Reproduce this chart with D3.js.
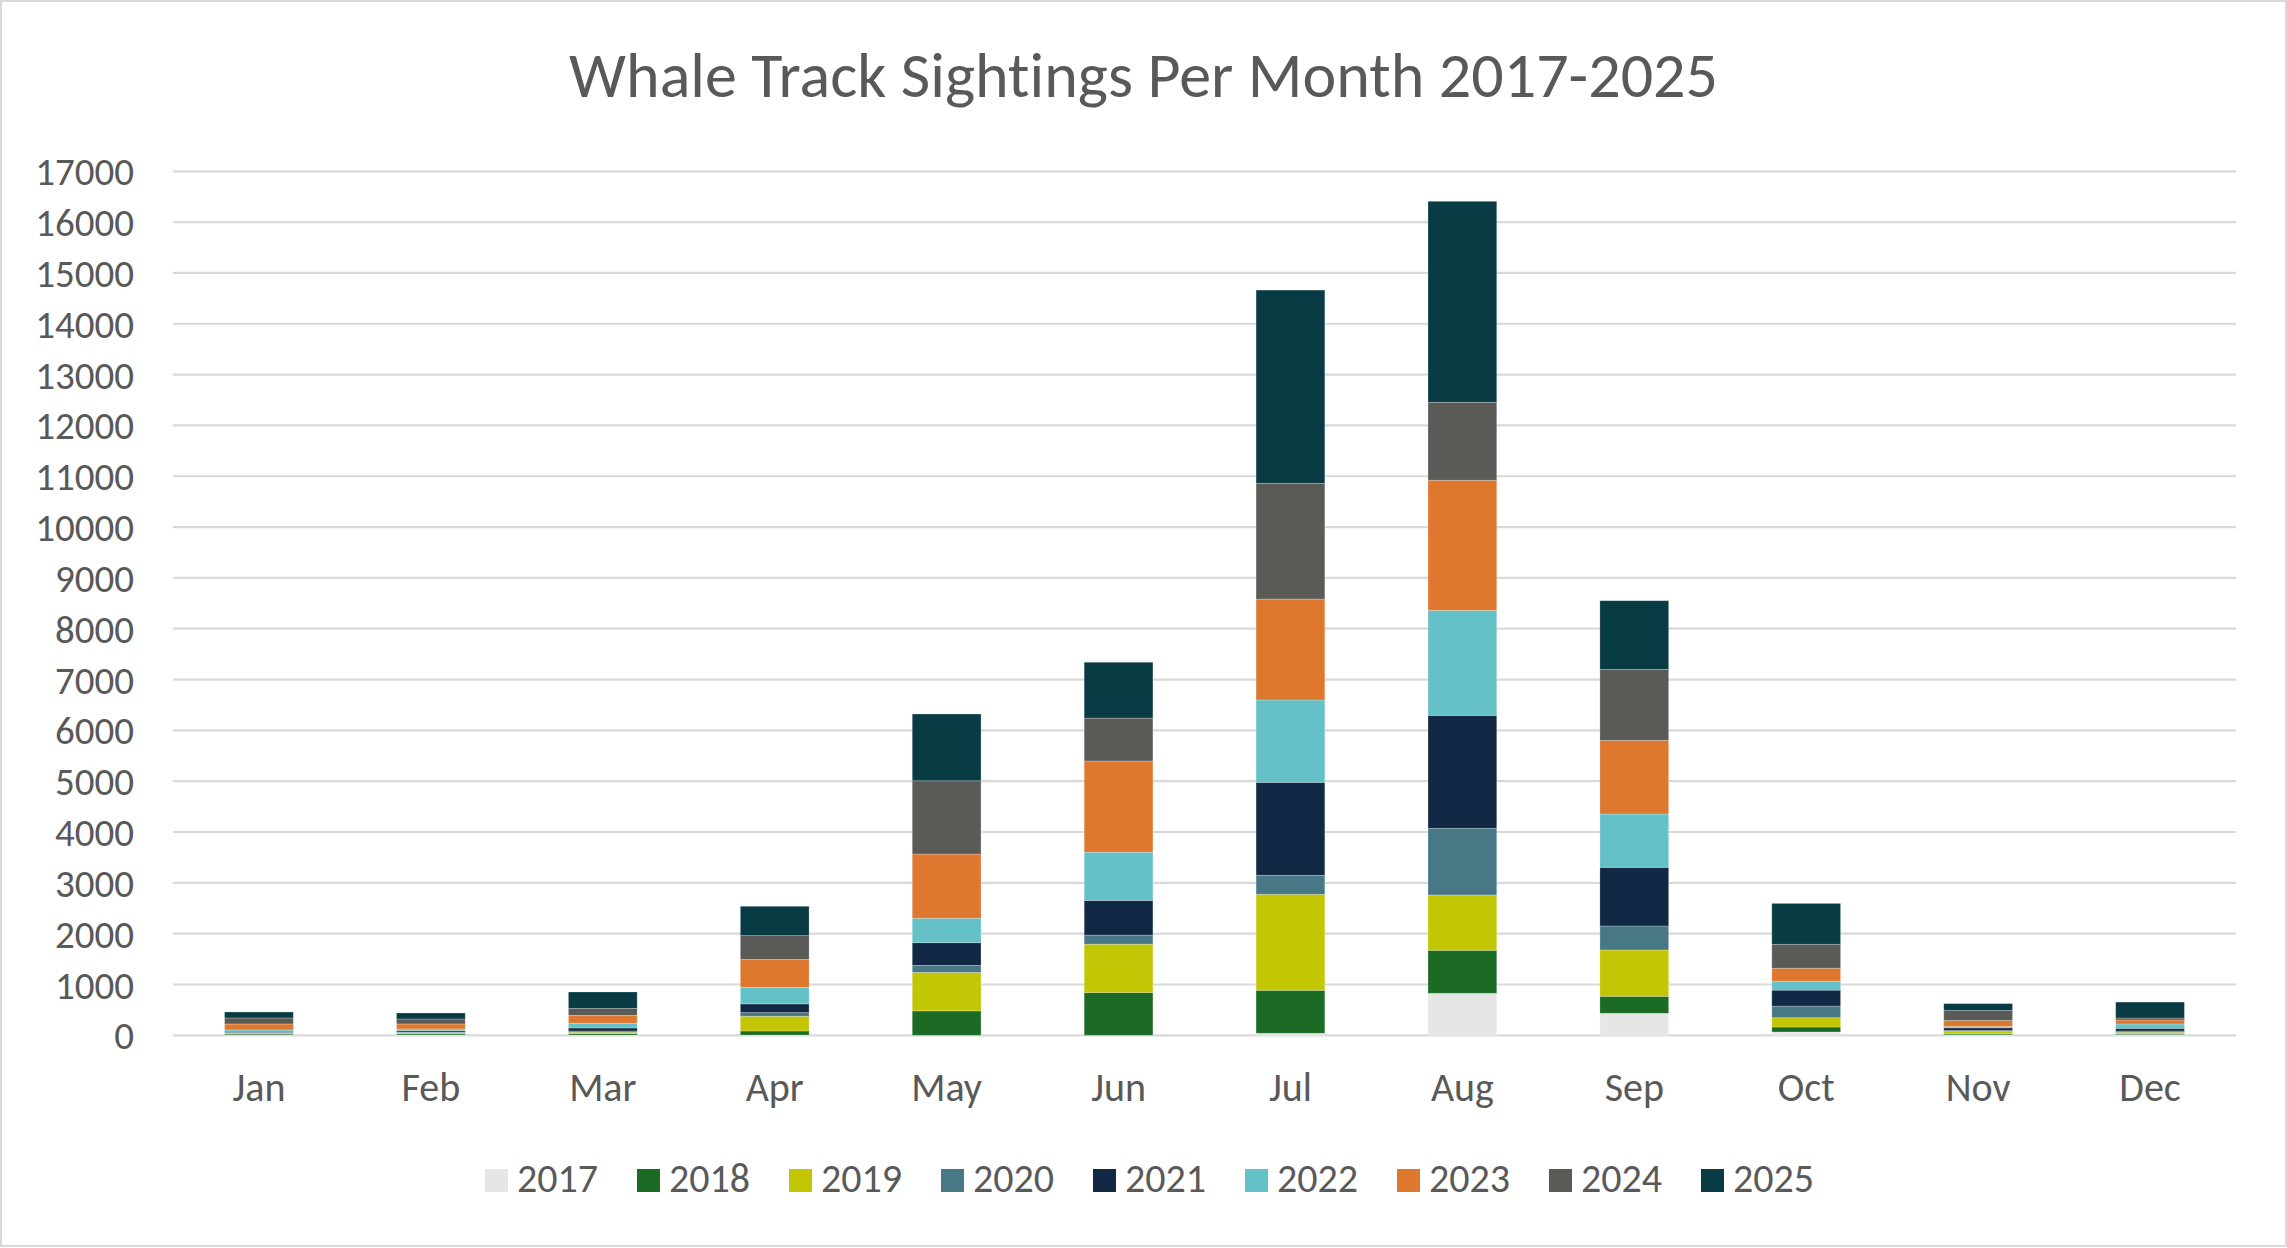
<!DOCTYPE html>
<html>
<head>
<meta charset="utf-8">
<script src="https://cdn.jsdelivr.net/npm/d3@7"></script>
<style>
    html, body { margin: 0; padding: 0; background: #fff; }
    svg text { font-family: Calibri, Carlito, Lato, sans-serif; fill: #595959; font-variant-ligatures: none; }
</style>
</head>
<body>
<div class="whale-chart"></div>
<script>
var months = ["Jan", "Feb", "Mar", "Apr", "May", "Jun", "Jul", "Aug", "Sep", "Oct", "Nov", "Dec"];
var years = ["2017", "2018", "2019", "2020", "2021", "2022", "2023", "2024", "2025"];
var yearColours = ["#e7e6e6", "#1b6b24", "#c3c605", "#487886", "#112944", "#64c1c7", "#df782f", "#5a5a57", "#093b45"];
var yTicks = d3.range(0, 17001, 1000);

// sightings per month, one array per year
var sightings2017 = [5, 5, 5, 5, 0, 0, 40, 826, 433, 65, 10, 13];
var sightings2018 = [20, 25, 30, 80, 480, 841, 845, 846, 334, 98, 25, 20];
var sightings2019 = [20, 20, 25, 290, 757, 952, 1889, 1089, 912, 183, 40, 26];
var sightings2020 = [15, 15, 25, 72, 138, 178, 374, 1311, 472, 229, 20, 26];
var sightings2021 = [20, 25, 59, 171, 447, 683, 1829, 2223, 1154, 314, 52, 52];
var sightings2022 = [25, 35, 92, 323, 481, 949, 1620, 2066, 1049, 176, 26, 85];
var sightings2023 = [118, 98, 157, 552, 1263, 1793, 1986, 2560, 1449, 255, 118, 79];
var sightings2024 = [118, 98, 138, 468, 1441, 844, 2277, 1534, 1397, 471, 196, 39];
var sightings2025 = [118, 118, 321, 578, 1315, 1100, 3803, 3955, 1351, 804, 137, 314];

(function() {
    var width = 2287, height = 1248;
    var seriesValues = [sightings2017, sightings2018, sightings2019, sightings2020, sightings2021,
        sightings2022, sightings2023, sightings2024, sightings2025];

    var rows = months.map(function(m, i) {
        var row = {month: m};
        years.forEach(function(y, j) { row[y] = seriesValues[j][i]; });
        return row;
    });

    var svg = d3.select(".whale-chart").append("svg")
        .attr("width", width)
        .attr("height", height);

    svg.append("rect")
        .attr("x", 1).attr("y", 1)
        .attr("width", width - 2).attr("height", height - 3)
        .style("fill", "#fff")
        .style("stroke", "#d9d9d9")
        .style("stroke-width", 2);

    var plot = {left: 173, right: 2236, top: 171.3, bottom: 1035.3};

    var x = d3.scaleBand().domain(months).range([plot.left, plot.right]).paddingInner(0.6).paddingOuter(0.3);
    var y = d3.scaleLinear().domain([0, 17000]).range([plot.bottom, plot.top]);
    var colour = d3.scaleOrdinal().domain(years).range(yearColours);

    svg.append("text")
        .attr("x", width / 2)
        .attr("y", 97)
        .attr("text-anchor", "middle")
        .style("font-size", "64px")
        .text("Whale Track Sightings Per Month 2017-2025");

    // gridlines + y labels
    var yAxis = svg.append("g").classed("y-axis", true);
    yAxis.selectAll("line")
        .data(yTicks)
        .enter()
        .append("line")
            .attr("x1", plot.left)
            .attr("x2", plot.right)
            .attr("y1", function(d) { return y(d); })
            .attr("y2", function(d) { return y(d); })
            .style("stroke", "#d9d9d9")
            .style("stroke-width", 2.2);

    yAxis.selectAll("text")
        .data(yTicks)
        .enter()
        .append("text")
            .attr("x", 134)
            .attr("y", function(d) { return y(d); })
            .attr("dy", "0.36em")
            .attr("text-anchor", "end")
            .style("font-size", "39px")
            .text(function(d) { return d; });

    var stacked = d3.stack().keys(years)(rows);

    svg.append("g").classed("bars", true)
        .selectAll("g")
        .data(stacked)
        .enter()
        .append("g")
            .style("fill", function(d) { return colour(d.key); })
        .selectAll("rect")
        .data(function(d) { return d; })
        .enter()
        .append("rect")
            .attr("x", function(d) { return x(d.data.month); })
            .attr("width", x.bandwidth())
            .attr("y", function(d) { return y(d[1]); })
            .attr("height", function(d) { return Math.max(0, y(d[0]) - y(d[1])); })
            .style("stroke", "#fff")
            .style("stroke-opacity", 0.3)
            .style("stroke-width", 0.8);

    svg.append("g").classed("x-axis", true)
        .selectAll("text")
        .data(months)
        .enter()
        .append("text")
            .attr("x", function(d) { return x(d) + x.bandwidth() / 2; })
            .attr("y", 1101)
            .attr("text-anchor", "middle")
            .style("font-size", "40px")
            .text(function(d) { return d; });

    // legend
    var legendStep = 152;
    var legendLeft = 485;
    var legend = svg.append("g").classed("legend", true)
        .selectAll("g")
        .data(years)
        .enter()
        .append("g")
            .attr("transform", function(d, i) { return "translate(" + (legendLeft + i * legendStep) + ", 1192)"; });

    legend.append("rect")
        .attr("x", 0)
        .attr("y", -23)
        .attr("width", 23)
        .attr("height", 23)
        .style("fill", function(d) { return colour(d); });

    legend.append("text")
        .attr("x", 32)
        .attr("y", 0)
        .style("font-size", "40px")
        .text(function(d) { return d; });
})();
</script>
</body>
</html>
